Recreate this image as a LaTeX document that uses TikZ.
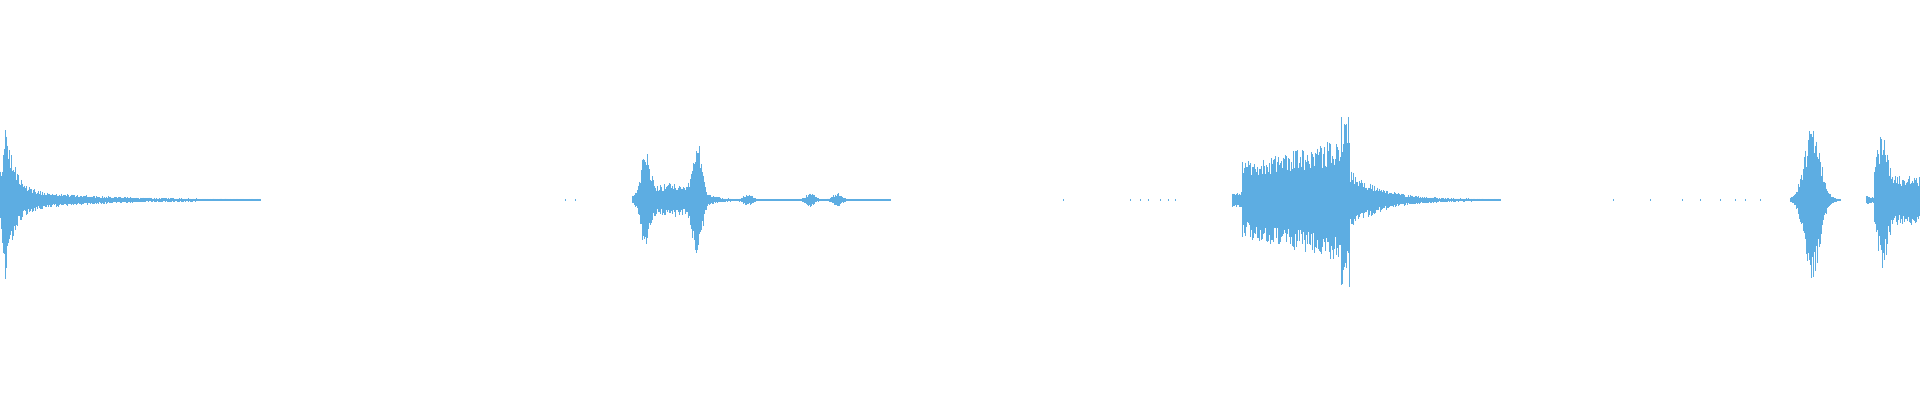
\documentclass[tikz,border=0pt]{standalone}
\begin{document}
\begin{tikzpicture}[x=1pt,y=-1pt,wave/.style={draw={rgb,255:red,93;green,173;blue,226},line width=1pt}]
\useasboundingbox (0,0) rectangle (1920,400);
\pgfmathsetseed{7}
\newcommand{\wv}[3]{%
 \foreach \x in {#1,...,#2}{%
  \pgfmathsetmacro\a{#3}%
  \pgfmathsetmacro\t{\a*(0.55+0.45*rnd)}%
  \pgfmathsetmacro\b{\a*(0.55+0.45*rnd)}%
  \draw[wave] (\x,200-\t) -- (\x,200+\b);}}
% segment 1
\wv{0}{260}{ifthenelse(\x<5, 30+8*\x, 62*exp(max(-20,-(\x-7)/7))+14*exp(max(-20,-(\x-7)/60))+1)}
% segment 2
\wv{632}{890}{48*exp(max(-20,-((\x-645)/6)^2))+52*exp(max(-20,-((\x-697)/6)^2))+16*exp(max(-20,-((\x-672)/32)^2))+5*exp(max(-20,-((\x-748)/6)^2))+6*exp(max(-20,-((\x-810)/6)^2))+6*exp(max(-20,-((\x-837)/6)^2))+1}
% segment 3
\wv{1232}{1500}{ifthenelse(\x<1350, ifthenelse(\x<1242,8,38+(\x-1242)*0.25)+ifthenelse(\x>1340,22,0), 30*exp(max(-20,-(\x-1350)/30))+1)}
% segment 4
\wv{1790}{1840}{78*exp(max(-20,-((\x-1812)/11)^2))+1}
\wv{1866}{1920}{ifthenelse(\x<1874,4,25+45*exp(max(-20,-((\x-1882)/7)^2)))}
% sparse ticks
\foreach \x in {565,575,1063,1130,1140,1148,1160,1168,1175,1613,1650,1682,1700,1720,1735,1745,1760}{\draw[wave] (\x,199)--(\x,201);}
\end{tikzpicture}
\end{document}
